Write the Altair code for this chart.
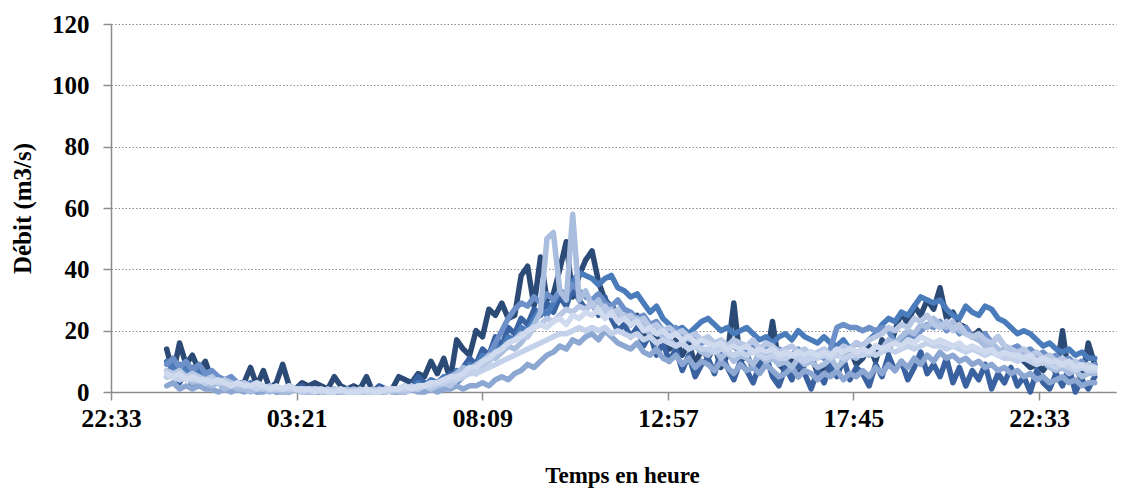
import altair as alt
import pandas as pd

# time grid: every 10 minutes from 00:00 to 24:00 (hours)
hours = [i / 6 for i in range(145)]

s1 = [14, 6, 16, 9, 12, 7,   10, 4, 3, 2, 4, 2,   3, 8, 2, 7, 1, 3,   9, 2, 1, 3, 2, 3,
      2, 1, 5, 2, 1, 2,      1, 5, 0, 1, 0, 1,    5, 4, 3, 6, 5, 10,  6, 11, 4, 17, 14, 12,
      20, 18, 27, 25, 29, 24, 25, 38, 41, 28, 44, 30, 32, 40, 49, 31, 38, 43, 46, 36, 30, 28, 26, 24,
      22, 25, 18, 21, 16, 19, 14, 17, 12, 16, 9, 14, 11, 15, 8, 12, 29, 10, 12, 8, 13, 10, 23, 9,
      7, 11, 5, 9, 12, 6,    8, 12, 6, 10, 14, 9, 11, 15, 10, 17, 13, 20, 26, 22, 28, 25, 30, 27,
      34, 24, 26, 22, 21, 18, 20, 17, 15, 12, 14, 11, 12, 10, 8, 9, 7, 10, 6, 20, 5, 8, 4, 16,
      9]
s2 = [5, 9, 3, 7, 2, 6,      4, 2, 5, 1, 3, 2,    1, 2, 0, 1, 2, 0,   1, 0, 1, 2, 0, 1,
      0, 1, 0, 0, 1, 0,      0, 1, 0, 2, 1, 0,    1, 0, 2, 5, 3, 1,   2, 4, 6, 3, 8, 11,
      9, 14, 12, 18, 15, 21, 19, 24, 22, 27, 25, 29, 26, 31, 28, 34, 30, 27, 29, 25, 31, 24, 20, 22,
      18, 21, 15, 19, 12, 16, 10, 14, 7, 12, 5, 9, 11, 6, 13, 8, 4, 10, 7, 3, 9, 12, 5, 2,
      8, 4, 10, 6, 1, 7,     3, 9, 5, 11, 4, 8,   6, 2, 9, 5, 12, 7,  10, 4, 8, 13, 6, 9,
      5, 11, 3, 8, 2, 7,     4, 9, 1, 6, 3, 8,    2, 5, 0, 7, 3, 1,   6, 2, 8, 0, 4, 1,
      5]
s3 = [10, 8, 9, 7, 8, 6,     5, 6, 4, 3, 4, 2,    2, 3, 1, 2, 1, 1,   1, 0, 1, 0, 1, 0,
      0, 1, 0, 0, 1, 0,      0, 0, 1, 0, 0, 1,    1, 2, 1, 3, 2, 4,   3, 5, 4, 7, 6, 9,
      8, 12, 11, 15, 14, 18, 17, 21, 20, 24, 27, 25, 29, 33, 31, 36, 39, 38, 37, 35, 37, 38, 34, 33,
      31, 32, 29, 26, 28, 24, 22, 20, 21, 19, 21, 23, 24, 22, 20, 21, 19, 20, 21, 19, 17, 18, 16, 18,
      19, 17, 20, 18, 17, 16, 18, 16, 15, 17, 14, 16, 15, 17, 19, 22, 24, 23, 26, 25, 28, 31, 30, 29,
      30, 27, 25, 24, 28, 26, 25, 28, 27, 24, 23, 21, 19, 20, 19, 17, 15, 16, 14, 13, 14, 12, 13, 11,
      11]
s4 = [9, 11, 8, 10, 7, 9,    6, 7, 5, 4, 5, 3,    3, 2, 3, 1, 2, 1,   1, 2, 1, 0, 1, 0,
      0, 0, 1, 0, 0, 0,      0, 1, 0, 0, 1, 0,    0, 1, 1, 2, 1, 2,   2, 3, 4, 3, 5, 7,
      6, 9, 12, 16, 20, 24,  27, 29, 28, 31, 29, 32, 30, 33, 32, 35, 33, 31, 30, 32, 29, 28, 30, 27,
      26, 24, 25, 22, 23, 20, 19, 21, 18, 17, 19, 16, 17, 15, 16, 14, 15, 13, 14, 16, 13, 15, 12, 14,
      13, 12, 14, 11, 13, 12, 11, 14, 21, 22, 21, 21, 20, 21, 20, 21, 20, 16, 17, 19, 18, 20, 22, 21,
      23, 20, 22, 19, 21, 18, 17, 19, 16, 18, 15, 14, 15, 13, 14, 12, 13, 11, 12, 10, 11, 9, 10, 8,
      9]
s5 = [2, 3, 1, 2, 1, 2,      1, 1, 0, 1, 0, 1,    0, 1, 0, 0, 1, 0,   0, 0, 1, 0, 0, 0,
      0, 0, 0, 1, 0, 0,      0, 0, 0, 0, 1, 0,    0, 0, 1, 0, 0, 1,   0, 1, 1, 2, 1, 2,
      2, 3, 2, 4, 5, 4,      6, 7, 9, 8, 10, 12,  13, 15, 14, 17, 16, 18, 19, 17, 20, 18, 16, 15,
      14, 16, 13, 12, 14, 11, 10, 12, 9, 11, 8, 10, 9, 7, 10, 8, 6, 9, 7, 8, 6, 9, 7, 5,
      6, 8, 5, 7, 6, 4,      6, 5, 7, 4, 6, 5,    7, 5, 8, 6, 9, 7,   10, 8, 11, 9, 12, 10,
      13, 11, 12, 10, 11, 9, 10, 8, 9, 7, 8, 6,   7, 5, 6, 4, 5, 3,   4, 5, 3, 4, 2, 3,
      3]
s6 = [5, 6, 4, 5, 3, 4,      3, 2, 3, 1, 2, 1,    1, 0, 1, 1, 0, 1,   0, 0, 1, 0, 0, 1,
      0, 0, 0, 0, 1, 0,      0, 1, 0, 0, 0, 1,    0, 1, 1, 2, 2, 3,   3, 4, 5, 6, 8, 7,
      9, 10, 12, 11, 13, 15, 14, 16, 19, 22, 26, 50, 52, 33, 30, 58, 30, 33, 28, 30, 26, 27, 24, 25,
      22, 24, 21, 19, 20, 18, 17, 15, 16, 14, 15, 13, 12, 14, 11, 13, 10, 12, 11, 9, 12, 10, 11, 9,
      10, 8, 11, 9, 10, 8,   9, 11, 8, 10, 12, 11, 13, 12, 15, 14, 17, 16, 18, 20, 19, 22, 21, 24,
      22, 21, 23, 20, 19, 18, 17, 15, 16, 14, 13, 12, 11, 12, 10, 9, 10, 8, 7, 8, 6, 7, 5, 6,
      6]
s7 = [7, 6, 7, 5, 6, 5,      4, 5, 3, 4, 3, 2,    3, 2, 2, 1, 2, 1,   1, 2, 1, 1, 0, 1,
      1, 0, 1, 0, 0, 1,      0, 0, 1, 0, 1, 0,    1, 0, 1, 1, 2, 1,   2, 3, 2, 4, 5, 6,
      7, 9, 10, 12, 14, 16,  17, 19, 18, 21, 22, 24, 23, 25, 27, 26, 28, 27, 29, 26, 28, 25, 27, 24,
      25, 23, 24, 21, 22, 20, 21, 19, 20, 18, 19, 17, 18, 16, 17, 15, 17, 16, 15, 17, 14, 16, 15, 13,
      14, 15, 13, 14, 12, 13, 14, 12, 13, 15, 14, 16, 15, 17, 18, 19, 21, 20, 22, 21, 24, 23, 25, 22,
      21, 23, 20, 22, 19, 18, 19, 17, 16, 18, 15, 14, 13, 14, 12, 13, 11, 12, 10, 11, 9, 10, 8, 9,
      8]
s8 = [5, 5, 4, 5, 4, 4,      3, 4, 3, 3, 2, 3,    2, 2, 1, 2, 1, 1,   1, 1, 1, 0, 1, 1,
      0, 1, 0, 1, 0, 0,      1, 0, 0, 1, 0, 1,    1, 1, 2, 1, 2, 2,   3, 3, 4, 4, 5, 6,
      6, 7, 8, 9, 10, 11,    12, 13, 14, 15, 16, 17, 18, 19, 19, 20, 21, 20, 21, 20, 21, 19, 20, 19,
      18, 19, 17, 18, 16, 17, 16, 15, 16, 14, 15, 14, 14, 13, 14, 13, 12, 13, 12, 13, 12, 11, 12, 11,
      11, 12, 11, 10, 11, 11, 12, 11, 12, 11, 12, 12, 12, 13, 12, 13, 14, 13, 14, 15, 14, 15, 16, 15,
      15, 14, 15, 14, 13, 14, 13, 12, 13, 12, 11, 11, 10, 11, 10, 9, 10, 9, 8, 9, 8, 7, 8, 7,
      7]
s9 = [6, 5, 6, 4, 5, 4,      4, 3, 4, 3, 2, 3,    2, 2, 3, 2, 1, 2,   1, 2, 1, 1, 1, 0,
      1, 0, 0, 1, 0, 0,      0, 1, 0, 0, 1, 1,    1, 2, 1, 2, 2, 3,   3, 4, 5, 5, 6, 8,
      8, 10, 11, 13, 14, 16, 17, 18, 20, 21, 22, 21, 23, 24, 22, 25, 24, 26, 25, 27, 24, 26, 23, 24,
      22, 23, 20, 21, 19, 20, 18, 19, 17, 18, 16, 17, 16, 15, 16, 14, 15, 14, 15, 13, 14, 13, 14, 12,
      13, 12, 13, 12, 13, 12, 13, 12, 14, 13, 14, 13, 14, 13, 15, 14, 15, 16, 15, 17, 16, 18, 17, 16,
      17, 16, 15, 16, 14, 15, 14, 13, 14, 12, 13, 12, 12, 11, 12, 10, 11, 10, 10, 9, 10, 8, 9, 8,
      8]

series_names = ["S1", "S2", "S3", "S4", "S5", "S6", "S7", "S8", "S9"]
series_values = [s1, s2, s3, s4, s5, s6, s7, s8, s9]
series_colors = ["#2B4A75", "#3A62A0", "#4A7BBA", "#6C90C7", "#8DA7D3",
                 "#A9BDDF", "#B7C7E4", "#C4D1EA", "#D0DAEE"]

# x tick positions (hours relative to 00:00) and their labels
tick_values = [-1.44, 3.36, 8.16, 12.96, 17.76, 22.56]
tick_labels = ["22:33", "03:21", "08:09", "12:57", "17:45", "22:33"]
y_ticks = [0, 20, 40, 60, 80, 100, 120]

rows = []
for name, vals in zip(series_names, series_values):
    n = min(len(vals), len(hours))
    for i in range(n):
        rows.append({"serie": name, "h": hours[i], "debit": vals[i]})
df = pd.DataFrame(rows)

label_expr = ""
for v, lab in zip(tick_values, tick_labels):
    label_expr += f"abs(datum.value - ({v})) < 0.01 ? '{lab}' : "
label_expr += "''"

FONT = "Liberation Serif"

chart = alt.Chart(df).mark_line(
    strokeWidth=5.5, strokeJoin="round", strokeCap="round", clip=False
).encode(
    x=alt.X("h:Q",
            scale=alt.Scale(domain=[-1.44, 24.55], nice=False, zero=False),
            axis=alt.Axis(values=tick_values, labelExpr=label_expr,
                          title="Temps en heure", grid=False,
                          domainColor="#8c8c8c", domainWidth=1.5,
                          tickColor="#8c8c8c", tickWidth=1.5, tickSize=8,
                          labelFont=FONT, labelFontSize=26, labelFontWeight="bold",
                          labelColor="black", labelPadding=5, labelFlush=False,
                          titleFont=FONT, titleFontSize=23, titleFontWeight="bold",
                          titleColor="black", titleX=511, titleY=83,
                          titleBaseline="middle")),
    y=alt.Y("debit:Q",
            scale=alt.Scale(domain=[0, 120], nice=False),
            axis=alt.Axis(values=y_ticks, title="Débit (m3/s)",
                          grid=True, gridColor="#8c8c8c", gridDash=[1.5, 2],
                          gridWidth=1,
                          domainColor="#8c8c8c", domainWidth=1.5,
                          tickColor="#8c8c8c", tickWidth=1.5, tickSize=8,
                          labelFont=FONT, labelFontSize=25, labelFontWeight="bold",
                          labelColor="black", labelPadding=14,
                          titleFont=FONT, titleFontSize=25, titleFontWeight="bold",
                          titleColor="black", titleX=-89, titleY=184,
                          titleAngle=-90, titleBaseline="middle")),
    color=alt.Color("serie:N",
                    scale=alt.Scale(domain=series_names, range=series_colors),
                    legend=None),
    order=alt.Order("h:Q"),
).properties(
    width=1005, height=368,
    autosize=alt.AutoSizeParams(type="none"),
    padding={"left": 103, "top": 16, "right": 2, "bottom": 96},
).configure_view(
    stroke=None
).configure_axis(
    labelAngle=0
)

chart.save("out.html", embed_options={"renderer": "svg", "actions": False})
